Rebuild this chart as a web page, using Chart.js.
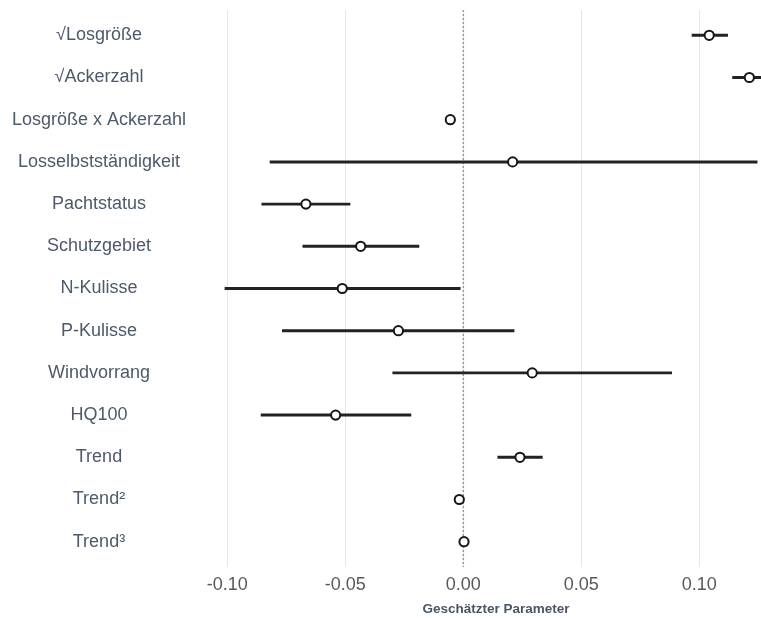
<!DOCTYPE html>
<html>
<head>
<meta charset="utf-8">
<style>
  html, body { margin: 0; padding: 0; background: #ffffff; }
  #wrap { width: 761px; height: 618px; }
</style>
<script src="https://cdn.jsdelivr.net/npm/chart.js@4/dist/chart.umd.min.js"></script>
</head>
<body>
<div id="wrap"><canvas id="c" width="761" height="618"></canvas></div>
<script>
// Coefficient estimates with confidence intervals
const terms = [
  "\u221ALosgr\u00F6\u00DFe",
  "\u221AAckerzahl",
  "Losgr\u00F6\u00DFe x Ackerzahl",
  "Losselbstst\u00E4ndigkeit",
  "Pachtstatus",
  "Schutzgebiet",
  "N-Kulisse",
  "P-Kulisse",
  "Windvorrang",
  "HQ100",
  "Trend",
  "Trend\u00B2",
  "Trend\u00B3"
];
const estimate = [0.1042, 0.1212, -0.0055, 0.0209, -0.0667, -0.0435, -0.0513, -0.0275, 0.0292, -0.0541, 0.0240, -0.0017, 0.0003];
const lower    = [0.0969, 0.1141, -0.0060, -0.0819, -0.0854, -0.0680, -0.1010, -0.0767, -0.0299, -0.0857, 0.0146, -0.0020, 0.0001];
const upper    = [0.1120, 0.1290, -0.0050, 0.1245, -0.0480, -0.0188, -0.0013, 0.0215, 0.0883, -0.0222, 0.0335, -0.0014, 0.0005];
const xTicks   = [-0.10, -0.05, 0.00, 0.05, 0.10];
const xTitle   = "Gesch\u00E4tzter Parameter";

const X_MIN = -0.11157, X_MAX = 0.12614;
const Y_MIN = -0.6, Y_MAX = terms.length - 1 + 0.6;

const labelColor = "#4d5a6b";

const intervals = terms.map((t, i) => ({ x: [lower[i], upper[i]], y: i }));
const points = terms.map((t, i) => ({ x: estimate[i], y: i }));

// bold axis caption under the tick labels
const captionPlugin = {
  id: "caption",
  afterDraw(chart) {
    const ctx = chart.ctx;
    ctx.save();
    ctx.font = "bold 13.5px 'Liberation Sans', Arial, sans-serif";
    ctx.fillStyle = "#4a5567";
    ctx.textAlign = "center";
    ctx.textBaseline = "middle";
    ctx.fillText(xTitle, 496, 609);
    ctx.restore();
  }
};

new Chart(document.getElementById("c"), {
  type: "bar",
  data: {
    datasets: [
      {
        type: "line",
        data: [{ x: 0, y: Y_MIN }, { x: 0, y: Y_MAX }],
        borderColor: "#9a9a9a",
        borderWidth: 1.5,
        borderDash: [2, 2],
        pointRadius: 0,
        order: 3
      },
      {
        type: "bar",
        data: intervals,
        backgroundColor: "#222222",
        borderWidth: 0,
        barThickness: 2.3,
        order: 2
      },
      {
        type: "scatter",
        data: points,
        pointRadius: 4.6,
        pointBorderWidth: 2,
        pointBackgroundColor: "#ffffff",
        pointBorderColor: "#161616",
        order: 1
      }
    ]
  },
  options: {
    indexAxis: "y",
    responsive: false,
    animation: false,
    devicePixelRatio: 1,
    layout: { autoPadding: false, padding: { top: 10, right: 0, bottom: 22, left: 0 } },
    plugins: { legend: { display: false }, tooltip: { enabled: false } },
    scales: {
      x: {
        type: "linear",
        min: X_MIN,
        max: X_MAX,
        offset: false,
        afterBuildTicks(scale) { scale.ticks = xTicks.map(v => ({ value: v })); },
        afterFit(scale) { scale.height = 29; scale.paddingLeft = 0; scale.paddingRight = 0; },
        grid: { color: "#e6e6e6", lineWidth: 1, drawTicks: false, offset: false },
        border: { display: false },
        ticks: {
          padding: 7,
          color: "#595959",
          font: { family: "'Liberation Sans', Arial, sans-serif", size: 18 },
          callback: v => v.toFixed(2)
        }
      },
      y: {
        type: "linear",
        reverse: true,
        min: Y_MIN,
        max: Y_MAX,
        offset: false,
        afterBuildTicks(scale) { scale.ticks = terms.map((t, i) => ({ value: i })); },
        afterFit(scale) { scale.width = 200; scale.paddingTop = 0; scale.paddingBottom = 0; },
        grid: { display: false, drawTicks: false, offset: false },
        border: { display: false },
        ticks: {
          padding: 14,
          crossAlign: "center",
          color: labelColor,
          font: { family: "'Liberation Sans', Arial, sans-serif", size: 18 },
          callback: v => terms[v]
        }
      }
    }
  },
  plugins: [captionPlugin]
});
</script>
</body>
</html>
